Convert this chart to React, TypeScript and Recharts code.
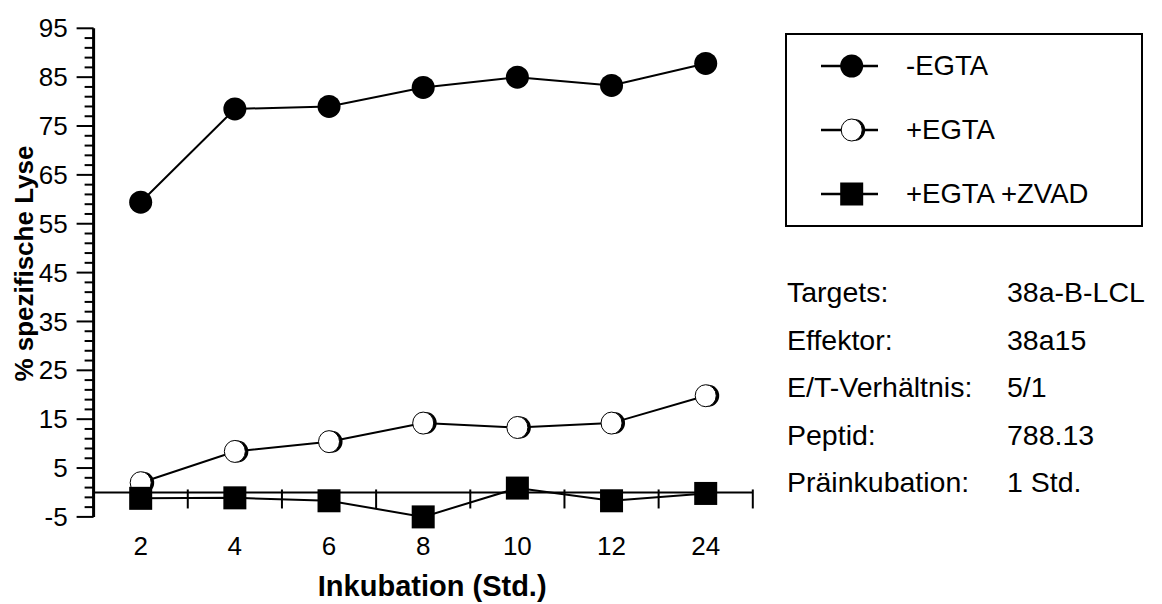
import React from "react";
import { LineChart, Line, XAxis, YAxis, ReferenceLine, ReferenceDot, Legend, Label } from "recharts";

const hours = ["2", "4", "6", "8", "10", "12", "24"];
const minusEgta = [59.4, 78.5, 79.0, 82.9, 85.0, 83.3, 87.8];
const plusEgta = [2.0, 8.4, 10.4, 14.2, 13.3, 14.2, 19.8];
const plusEgtaZvad = [-1.2, -1.1, -1.7, -5.0, 0.9, -1.7, -0.2];
const yMajorTicks = [-5, 5, 15, 25, 35, 45, 55, 65, 75, 85, 95];
const legendOrder = ["minus", "plus", "zvad"];
const infoLabels = ["Targets:", "Effektor:", "E/T-Verhältnis:", "Peptid:", "Präinkubation:"];
const infoValues = ["38a-B-LCL", "38a15", "5/1", "788.13", "1 Std."];

const FONT = '"Liberation Sans", Arial, Helvetica, sans-serif';

const data = hours.map((h, i) => ({
  idx: i,
  hour: h,
  minus: minusEgta[i],
  plus: plusEgta[i],
  zvad: plusEgtaZvad[i],
}));

// minor ticks every 2 units between the labelled ones
const yAllTicks: number[] = [];
yMajorTicks.forEach((t, i) => {
  yAllTicks.push(t);
  if (i < yMajorTicks.length - 1) [2, 4, 6, 8].forEach((d) => yAllTicks.push(t + d));
});
const xBoundaries = [...hours.map((_, i) => i - 0.5), hours.length - 0.5];

const Marker = ({ kind, cx, cy }: { kind: string; cx: number; cy: number }) => {
  if (kind === "minus") return <circle cx={cx} cy={cy} r={11.5} fill="#000" />;
  if (kind === "plus")
    return (
      <g>
        <ellipse cx={cx + 2.5} cy={cy} rx={11} ry={11} fill="#000" />
        <ellipse cx={cx} cy={cy} rx={10.5} ry={11} fill="#fff" stroke="#000" strokeWidth={1} />
      </g>
    );
  return <rect x={cx - 11.5} y={cy - 11.5} width={23} height={23} fill="#000" />;
};

const dotFor = (kind: string) => (p: any) =>
  <Marker key={`${kind}-${p.index}`} kind={kind} cx={p.cx} cy={p.cy} />;

const YTick = (props: any) => {
  const { x, y, payload } = props;
  const major = yMajorTicks.includes(payload.value);
  return (
    <g>
      <line x1={x - (major ? 17 : 9)} x2={x} y1={y} y2={y} stroke="#000" strokeWidth={2} />
      {major && (
        <text x={x - 26} y={y} dy="0.35em" textAnchor="end" fontSize={26} fontFamily={FONT} fill="#000">
          {payload.value}
        </text>
      )}
    </g>
  );
};

const XTick = (props: any) => {
  const { x, y, payload } = props;
  return (
    <text x={x} y={y + 29} dy="0.35em" textAnchor="middle" fontSize={26} fontFamily={FONT} fill="#000">
      {hours[payload.value]}
    </text>
  );
};

const renderLegend = (props: any) => {
  const items = [...(props.payload || [])].sort(
    (a: any, b: any) => legendOrder.indexOf(a.dataKey) - legendOrder.indexOf(b.dataKey)
  );
  return (
    <div
      style={{
        width: 358,
        height: 194,
        border: "2px solid #000",
        boxSizing: "border-box",
        position: "relative",
        fontFamily: FONT,
        background: "#fff",
      }}
    >
      {items.map((it: any, i: number) => (
        <div key={it.value} style={{ position: "absolute", left: 0, top: 31 + i * 64 - 20, height: 40, width: "100%" }}>
          <svg width={100} height={40} style={{ position: "absolute", left: 0, top: 0 }}>
            <line x1={34} x2={91} y1={20} y2={20} stroke="#000" strokeWidth={2.5} />
            <Marker kind={it.dataKey} cx={64.7} cy={20} />
          </svg>
          <span style={{ position: "absolute", left: 119, top: 0, lineHeight: "40px", fontSize: 27.5, color: "#000", whiteSpace: "nowrap" }}>
            {it.value}
          </span>
        </div>
      ))}
    </div>
  );
};

export default function App() {
  return (
    <div style={{ position: "absolute", left: 0, top: 0, width: 1162, height: 604, background: "#fff" }}>
      <LineChart width={1162} height={604} data={data} margin={{ top: 28.3, right: 409.2, bottom: 57.1, left: 13.6 }}>
        <XAxis
          dataKey="idx"
          type="number"
          domain={[-0.5, hours.length - 0.5]}
          ticks={hours.map((_, i) => i)}
          interval={0}
          axisLine={false}
          tickLine={false}
          tickSize={0}
          tickMargin={0}
          height={30}
          tick={<XTick />}
        >
          <Label
            content={(p: any) => {
              const vb = p.viewBox;
              return (
                <text x={vb.x + vb.width / 2 + 9} y={vb.y + 69} dy="0.35em" textAnchor="middle" fontSize={29} fontWeight="bold" fontFamily={FONT}>
                  Inkubation (Std.)
                </text>
              );
            }}
          />
        </XAxis>
        <YAxis
          type="number"
          domain={[-5, 95]}
          ticks={yAllTicks}
          interval={0}
          width={80}
          tickSize={0}
          tickMargin={0}
          tickLine={false}
          axisLine={{ stroke: "#000", strokeWidth: 3 }}
          tick={<YTick />}
        >
          <Label
            content={(p: any) => {
              const vb = p.viewBox;
              const cx = vb.x + 10;
              const cy = vb.y + vb.height / 2 - 9;
              return (
                <text x={cx} y={cy} dy="0.35em" textAnchor="middle" fontSize={26} fontWeight="bold" fontFamily={FONT} transform={`rotate(-90 ${cx} ${cy})`}>
                  % spezifische Lyse
                </text>
              );
            }}
          />
        </YAxis>
        <ReferenceLine y={0} stroke="#000" strokeWidth={2} />
        {xBoundaries.map((b) => (
          <ReferenceDot
            key={b}
            x={b}
            y={0}
            ifOverflow="visible"
            shape={(p: any) => <line x1={p.cx} x2={p.cx} y1={p.cy - 3} y2={p.cy + 16} stroke="#000" strokeWidth={2} />}
          />
        ))}
        <Line dataKey="minus" name="-EGTA" stroke="#000" strokeWidth={2} isAnimationActive={false} dot={dotFor("minus")} activeDot={false} />
        <Line dataKey="plus" name="+EGTA" stroke="#000" strokeWidth={2} isAnimationActive={false} dot={dotFor("plus")} activeDot={false} />
        <Line dataKey="zvad" name="+EGTA +ZVAD" stroke="#000" strokeWidth={2} isAnimationActive={false} dot={dotFor("zvad")} activeDot={false} />
        <Legend
          layout="vertical"
          align="center"
          verticalAlign="middle"
          content={renderLegend}
          wrapperStyle={{ left: 785, top: 33, width: 358, height: 194 }}
        />
      </LineChart>
      <div style={{ position: "absolute", left: 787, top: 269, fontFamily: FONT, fontSize: 28.5, color: "#000" }}>
        {infoLabels.map((l, i) => (
          <div key={l} style={{ position: "relative", height: 47.5, lineHeight: "47.5px", whiteSpace: "nowrap" }}>
            <span>{l}</span>
            <span style={{ position: "absolute", left: 220 }}>{infoValues[i]}</span>
          </div>
        ))}
      </div>
    </div>
  );
}
